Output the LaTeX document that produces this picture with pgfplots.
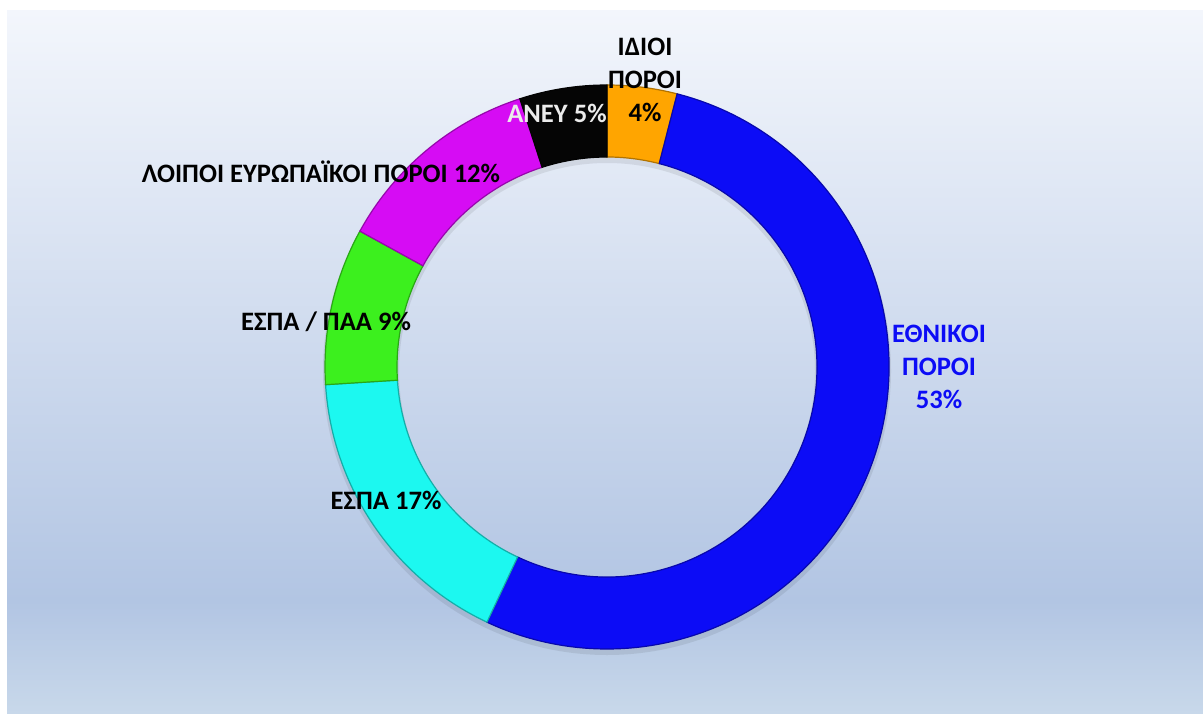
\documentclass[border=0pt]{standalone}
\usepackage{pgfplots}
\pgfplotsset{compat=1.18}
\usepackage{pgfplotstable}
\usepackage{fontspec}
\setmainfont{Carlito}
\definecolor{idioi}{HTML}{FFA500}
\definecolor{ethnikoi}{HTML}{0C0CF6}
\definecolor{espa}{HTML}{1CF8F0}
\definecolor{espapaa}{HTML}{3CF01E}
\definecolor{loipoi}{HTML}{D60CF4}
\definecolor{aneu}{HTML}{050505}
\definecolor{bgtop}{HTML}{F3F6FC}
\definecolor{bgdark}{HTML}{B2C5E3}
\definecolor{bgbot}{HTML}{C8D8EA}
\pgfdeclareverticalshading{bgshade}{100bp}{color(0bp)=(bgbot); color(25bp)=(bgbot); color(33bp)=(bgdark); color(75bp)=(bgtop); color(100bp)=(bgtop)}
\pgfplotstableread{
share color
4 idioi
53 ethnikoi
17 espa
9 espapaa
12 loipoi
5 aneu
}\donutdata
\begin{document}
\begin{tikzpicture}
\begin{axis}[
  scale only axis, width=601.5pt, height=356.5pt,
  xmin=0, xmax=1203, ymin=0, ymax=713,
  enlargelimits=false, hide axis, clip=false,
]
\fill[white] (axis cs:0,0) rectangle (axis cs:1203,713);
\shade[shading=bgshade] (axis cs:7,0) rectangle (axis cs:1203,702);
% soft shadow of the ring
\fill[black, opacity=0.08, even odd rule]
  ([yshift=-2pt]axis cs:607,346) circle[radius=142pt]
  ([yshift=-2pt]axis cs:607,346) circle[radius=104pt];
\def\cumangle{90}
\pgfplotsforeachungrouped \i in {0,...,5}{%
  \pgfplotstablegetelem{\i}{share}\of\donutdata
  \let\val\pgfplotsretval
  \pgfplotstablegetelem{\i}{color}\of\donutdata
  \let\col\pgfplotsretval
  \pgfmathsetmacro\endangle{\cumangle-3.6*\val}%
  \edef\temp{\noexpand\fill[\col, draw=\col!70!black, line width=0.6pt]
    ([shift={(\cumangle:141pt)}]axis cs:607,346)
    arc[start angle=\cumangle, end angle=\endangle, radius=141pt]
    -- ([shift={(\endangle:105pt)}]axis cs:607,346)
    arc[start angle=\endangle, end angle=\cumangle, radius=105pt] -- cycle;}%
  \temp
  \global\let\cumangle\endangle
}
\tikzset{lbl/.style={font=\fontsize{13.3}{16.5}\selectfont\bfseries, align=center, inner sep=0pt}}
\node[lbl, text=black] at (axis cs:645,633) {ΙΔΙΟΙ\\ΠΟΡΟΙ\\4\%};
\node[lbl, text=black!8] at (axis cs:557,600) {ΑΝΕΥ 5\%};
\node[lbl, text=black] at (axis cs:321,541) {ΛΟΙΠΟΙ ΕΥΡΩΠΑΪΚΟΙ ΠΟΡΟΙ 12\%};
\node[lbl, text=black] at (axis cs:326,391) {ΕΣΠΑ / ΠΑΑ 9\%};
\node[lbl, text=black] at (axis cs:386,213) {ΕΣΠΑ 17\%};
\node[lbl, text=ethnikoi] at (axis cs:939,346) {ΕΘΝΙΚΟΙ\\ΠΟΡΟΙ\\53\%};
\end{axis}
\end{tikzpicture}
\end{document}
